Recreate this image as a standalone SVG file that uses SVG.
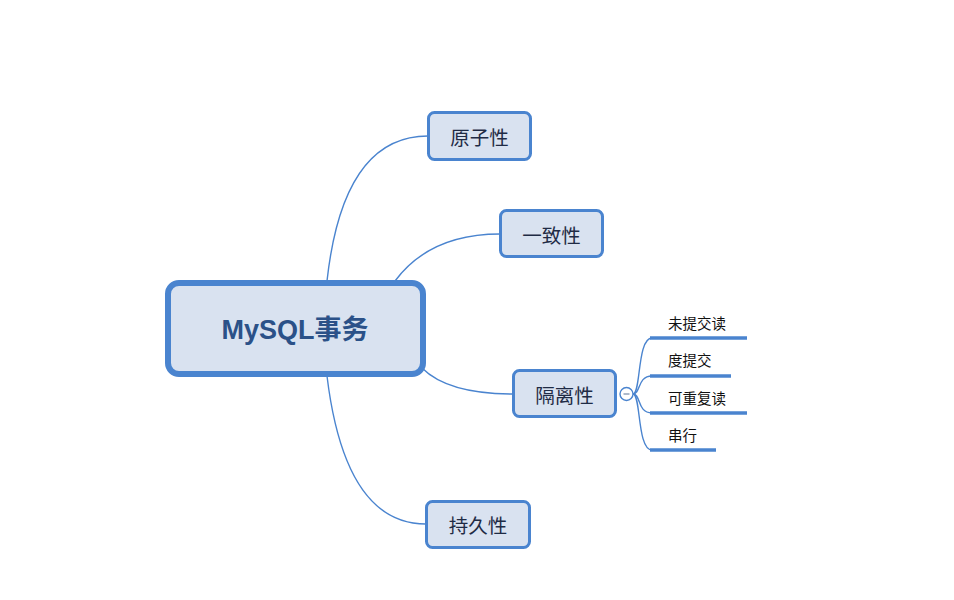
<svg xmlns="http://www.w3.org/2000/svg" width="954" height="600" viewBox="0 0 954 600">
<style>
.node rect{fill:#d9e2f0;stroke:#4a84cf;}
.topic{stroke-width:3;}
.t{font-family:"Noto Sans CJK SC","Liberation Sans",sans-serif;font-size:19.5px;fill:#1f2b45;text-anchor:middle;dominant-baseline:central;}
.root{font-family:"Liberation Sans","Noto Sans CJK SC",sans-serif;font-size:27px;font-weight:bold;fill:#2b5188;text-anchor:middle;dominant-baseline:central;}
.sub{font-family:"Noto Sans CJK SC","Liberation Sans",sans-serif;font-size:14.5px;fill:#111;}
.c{fill:none;stroke:#4a84cf;stroke-width:1.4;}
.u{stroke:#4a84cf;stroke-width:3.5;}
</style>
<rect width="954" height="600" fill="#fff"/>
<g id="connectors">
<path class="c" d="M327,281 Q343,136 428,136"/>
<path class="c" d="M395,281 Q430,234 500,234"/>
<path class="c" d="M422,368 Q448,394 513,394"/>
<path class="c" d="M327,376 Q345,524 426,524"/>
<path class="c" d="M633,394 C641,394 637,338 652,338"/>
<path class="c" d="M633,394 C641,394 637,376 652,376"/>
<path class="c" d="M633,394 C641,394 637,413 652,413"/>
<path class="c" d="M633,394 C641,394 637,450 652,450"/>
</g>
<g id="root" class="node"><rect x="168" y="283" width="255" height="91" rx="11" stroke-width="6"/><text class="root" x="295" y="330">MySQL事务</text></g>
<g id="n1" class="node"><rect class="topic" x="428.5" y="112.5" width="102" height="47" rx="6"/><text class="t" x="479.5" y="136">原子性</text></g>
<g id="n2" class="node"><rect class="topic" x="500.5" y="210.5" width="102" height="46" rx="6"/><text class="t" x="551.5" y="234">一致性</text></g>
<g id="n3" class="node"><rect class="topic" x="513.5" y="370.5" width="102" height="46" rx="6"/><text class="t" x="564.5" y="394">隔离性</text></g>
<g id="n4" class="node"><rect class="topic" x="426.5" y="501.5" width="103" height="46" rx="6"/><text class="t" x="478" y="524">持久性</text></g>
<g id="toggle"><circle cx="626.5" cy="394" r="6.5" fill="#fff" stroke="#4a84cf" stroke-width="1.4"/><line x1="623.5" y1="394" x2="629.5" y2="394" stroke="#8a9bb5" stroke-width="1.4"/></g>
<g id="s1"><line class="u" x1="650" y1="338" x2="747" y2="338"/><text class="sub" x="668" y="329">未提交读</text></g>
<g id="s2"><line class="u" x1="650" y1="376" x2="731" y2="376"/><text class="sub" x="668" y="366">度提交</text></g>
<g id="s3"><line class="u" x1="650" y1="413" x2="747" y2="413"/><text class="sub" x="668" y="404">可重复读</text></g>
<g id="s4"><line class="u" x1="650" y1="450" x2="716" y2="450"/><text class="sub" x="668" y="441">串行</text></g>
</svg>
